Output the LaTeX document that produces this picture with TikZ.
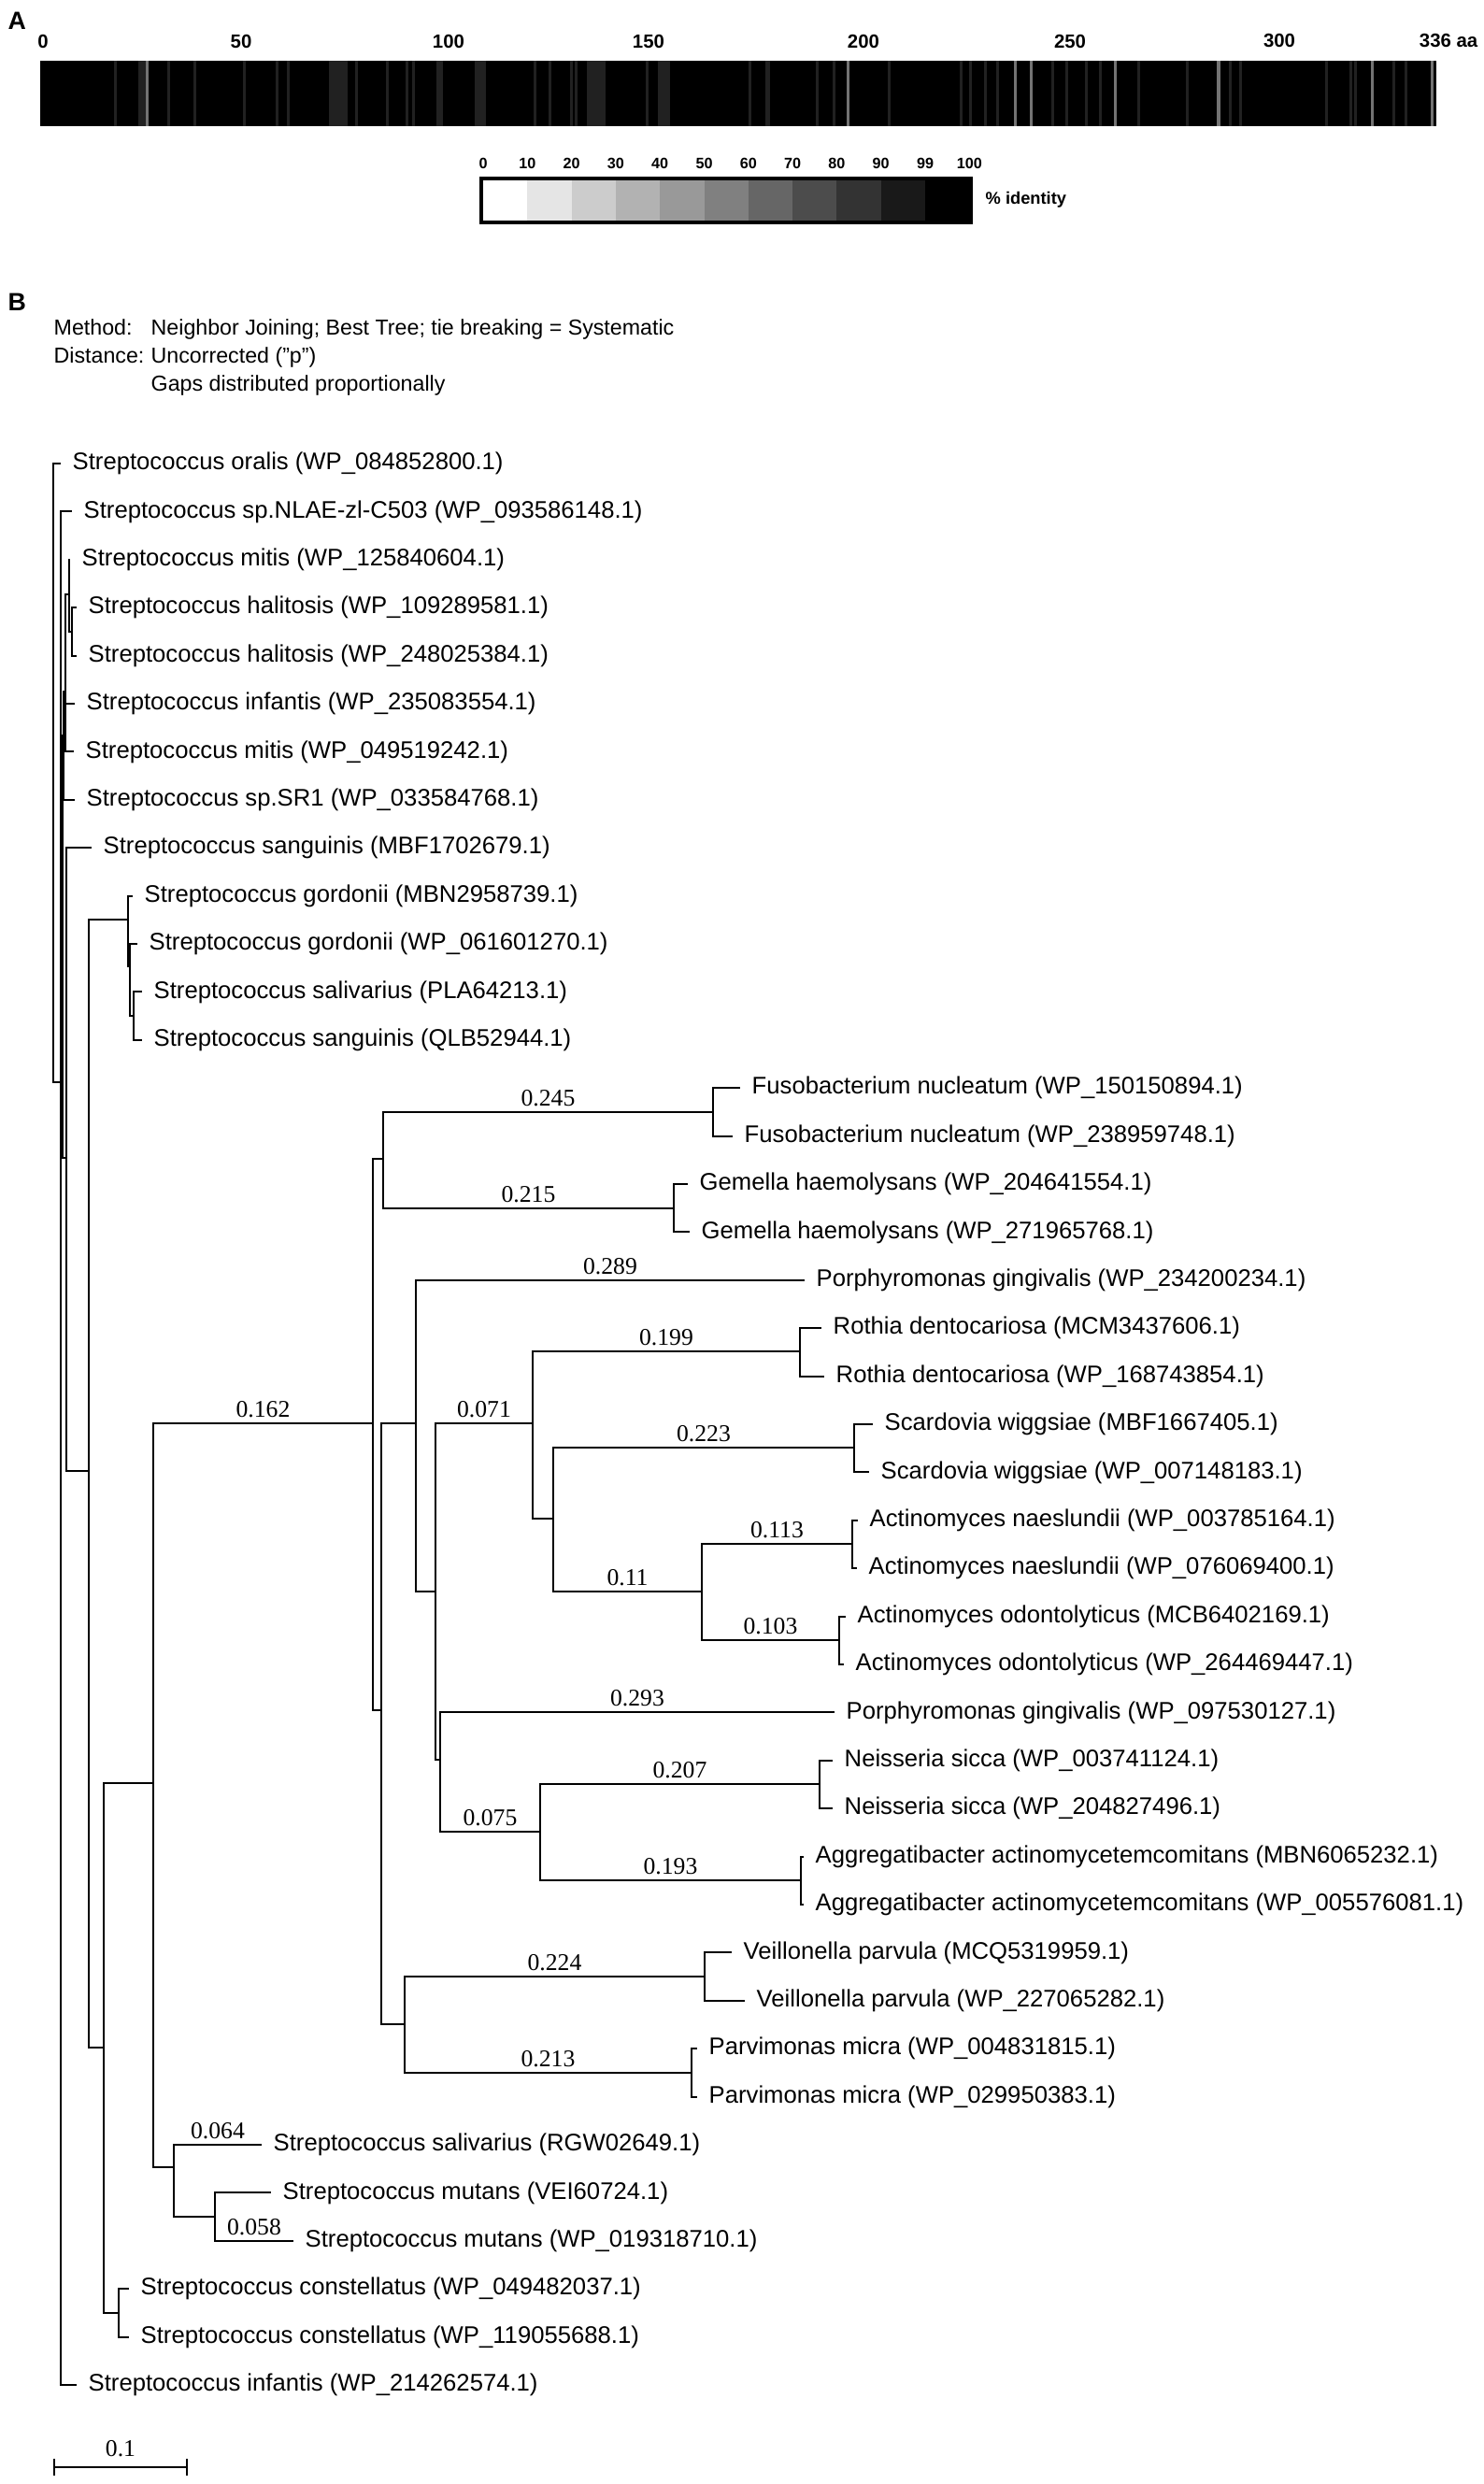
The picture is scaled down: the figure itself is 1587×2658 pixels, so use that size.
\documentclass[tikz,border=0pt]{standalone}
\usepackage{fontspec}
\setmainfont{Liberation Sans}
\newfontfamily\numserif{Liberation Serif}
\usepackage{graphicx}
\usetikzlibrary{positioning}

\definecolor{stripedark}{gray}{0.13}
\definecolor{stripelight}{gray}{0.45}
\newcommand{\leaffont}{\fontsize{7.3}{8.8}\selectfont}

\begin{document}
\begin{tikzpicture}[x=0.01cm, y=-0.01cm,
		branch/.style={line width=0.6pt},
		leaf/.style={inner sep=0pt, font=\leaffont},
		lenlab/.style={pos=0.75, above, inner sep=1.5pt, font=\numserif\leaffont},
		hdr/.style={anchor=base west, inner sep=0pt, font=\fontsize{6.6}{8}\selectfont},
		ticknum/.style={inner sep=0pt, font=\bfseries\fontsize{5.8}{6}\selectfont},
		panel/.style={anchor=west, inner sep=0pt, font=\bfseries\fontsize{7.6}{9}\selectfont}]
	\useasboundingbox (0,0) rectangle (1587,2658);

	% panel A: identity bar
	\node[panel] (pa) at (8,22) {A};
	\fill[black] (43,65) rectangle (1537,135);
	\foreach \sx/\sw/\sc in {122/3/stripedark, 148/10/stripedark, 156/3/stripelight,
			179/3/stripedark, 207/3/stripedark, 260/3/stripedark, 295/3/stripedark,
			307/3/stripedark, 352/20/stripedark, 380/3/stripedark, 413/3/stripedark,
			434/3/stripedark, 441/3/stripedark, 467/7/stripedark, 508/12/stripedark,
			571/3/stripedark, 587/3/stripedark, 610/3/stripedark, 615/3/stripedark,
			628/20/stripedark, 691/3/stripedark, 704/13/stripedark, 801/3/stripedark,
			819/5/stripedark, 873/3/stripedark, 891/3/stripedark, 906/3/stripelight,
			950/3/stripedark, 1027/3/stripedark, 1037/3/stripedark, 1053/3/stripedark,
			1066/3/stripedark, 1085/3/stripelight, 1102/3/stripelight, 1125/3/stripedark,
			1140/3/stripedark, 1161/3/stripedark, 1176/3/stripedark, 1192/3/stripelight,
			1217/3/stripedark, 1269/3/stripedark, 1302/4/stripelight, 1315/3/stripedark,
			1326/3/stripedark, 1418/3/stripedark, 1444/3/stripedark, 1449/3/stripedark,
			1467/3/stripelight, 1490/3/stripedark, 1503/3/stripedark, 1531/3/stripelight}
		\fill[\sc] (\sx,65) rectangle ++(\sw,70);
	\foreach \p/\t in {46/0, 258/50, 480/100, 694/150, 924/200, 1145/250, 1369/300}
		\node[ticknum] at (\p,44) {\t};
	\node[ticknum, anchor=east] (aa) at (1582,44) {336 aa};

	% legend
	\foreach \k in {0,...,10}
		\fill[black!\k0] ({517+47.3*\k},190) rectangle ({517+47.3*(\k+1)},239);
	\draw[line width=0.9pt] (515,191) rectangle (1039,238);
	\coordinate (legend) at (1040,214);
	\foreach \k/\t in {0/0, 1/10, 2/20, 3/30, 4/40, 5/50, 6/60, 7/70, 8/80, 9/90, 10/99, 11/100}
		\node[ticknum, font=\bfseries\fontsize{4.6}{5}\selectfont] (lg\k) at ({517+47.3*\k},175) {\t};
	\node[ticknum, anchor=west, right=0.14cm of legend, font=\bfseries\fontsize{5.2}{6}\selectfont] (ident) {\% identity};

	% panel B: header
	\node[panel] (pb) at (8,323) {B};
	\node[hdr] (meth) at (57,359) {Method:};
	\node[hdr] (methv) at (161,359) {Neighbor Joining; Best Tree; tie breaking = Systematic};
	\node[hdr] (dist) at (57,389) {Distance:};
	\node[hdr] (distv) at (161,389) {Uncorrected ("p")};
	\node[hdr] (gaps) at (161,419) {Gaps distributed proportionally};

	% leaves
	\foreach \i/\tx/\lab in {
			0/65/{Streptococcus oralis (WP\_084852800.1)},
			1/77/{Streptococcus sp.NLAE-zl-C503 (WP\_093586148.1)},
			2/75/{Streptococcus mitis (WP\_125840604.1)},
			3/82/{Streptococcus halitosis (WP\_109289581.1)},
			4/82/{Streptococcus halitosis (WP\_248025384.1)},
			5/80/{Streptococcus infantis (WP\_235083554.1)},
			6/79/{Streptococcus mitis (WP\_049519242.1)},
			7/80/{Streptococcus sp.SR1 (WP\_033584768.1)},
			8/98/{Streptococcus sanguinis (MBF1702679.1)},
			9/142/{Streptococcus gordonii (MBN2958739.1)},
			10/147/{Streptococcus gordonii (WP\_061601270.1)},
			11/152/{Streptococcus salivarius (PLA64213.1)},
			12/152/{Streptococcus sanguinis (QLB52944.1)},
			13/792/{Fusobacterium nucleatum (WP\_150150894.1)},
			14/784/{Fusobacterium nucleatum (WP\_238959748.1)},
			15/736/{Gemella haemolysans (WP\_204641554.1)},
			16/738/{Gemella haemolysans (WP\_271965768.1)},
			17/861/{Porphyromonas gingivalis (WP\_234200234.1)},
			18/879/{Rothia dentocariosa (MCM3437606.1)},
			19/882/{Rothia dentocariosa (WP\_168743854.1)},
			20/934/{Scardovia wiggsiae (MBF1667405.1)},
			21/930/{Scardovia wiggsiae (WP\_007148183.1)},
			22/918/{Actinomyces naeslundii (WP\_003785164.1)},
			23/917/{Actinomyces naeslundii (WP\_076069400.1)},
			24/905/{Actinomyces odontolyticus (MCB6402169.1)},
			25/903/{Actinomyces odontolyticus (WP\_264469447.1)},
			26/893/{Porphyromonas gingivalis (WP\_097530127.1)},
			27/891/{Neisseria sicca (WP\_003741124.1)},
			28/891/{Neisseria sicca (WP\_204827496.1)},
			29/860/{Aggregatibacter actinomycetemcomitans (MBN6065232.1)},
			30/860/{Aggregatibacter actinomycetemcomitans (WP\_005576081.1)},
			31/783/{Veillonella parvula (MCQ5319959.1)},
			32/797/{Veillonella parvula (WP\_227065282.1)},
			33/746/{Parvimonas micra (WP\_004831815.1)},
			34/746/{Parvimonas micra (WP\_029950383.1)},
			35/280/{Streptococcus salivarius (RGW02649.1)},
			36/290/{Streptococcus mutans (VEI60724.1)},
			37/314/{Streptococcus mutans (WP\_019318710.1)},
			38/138/{Streptococcus constellatus (WP\_049482037.1)},
			39/138/{Streptococcus constellatus (WP\_119055688.1)},
			40/82/{Streptococcus infantis (WP\_214262574.1)}}{
		\coordinate (t\i) at (\tx,{496+51.4*\i});
		\node[leaf, anchor=west, right=0.12cm of t\i] (n\i) {\lab};
	}

	% internal nodes
	\coordinate (root) at (57,828);
	\coordinate (cA) at (65,1158);
	\coordinate (cB) at (67,1013);
	\coordinate (cJ) at (68,787);
	\coordinate (cI) at (70,740);
	\coordinate (cM) at (74,636);
	\coordinate (hal) at (77,676);
	\coordinate (cZ) at (71,1239);
	\coordinate (cY) at (95,1574);
	\coordinate (gord) at (137,984);
	\coordinate (gord2) at (139,1034);
	\coordinate (gord3) at (143,1087);
	\coordinate (cX) at (111,2191);
	\coordinate (const) at (127,2475);
	\coordinate (cV) at (164,1908);
	\coordinate (cW) at (186,2319);
	\coordinate (mut) at (230,2372);
	\coordinate (cP) at (399,1523);
	\coordinate (cFG) at (410,1240);
	\coordinate (fuso) at (763,1190);
	\coordinate (gem) at (721,1293);
	\coordinate (cQ) at (408,1830);
	\coordinate (cR) at (445,1523);
	\coordinate (cU) at (466,1703);
	\coordinate (cS) at (570,1523);
	\coordinate (roth) at (856,1446);
	\coordinate (cS2) at (592,1625);
	\coordinate (scard) at (914,1549);
	\coordinate (actino) at (751,1703);
	\coordinate (actn) at (912,1652);
	\coordinate (acto) at (898,1755);
	\coordinate (cT) at (471,1883);
	\coordinate (cNA) at (578,1960);
	\coordinate (neis) at (877,1909);
	\coordinate (aggr) at (857,2012);
	\coordinate (cVP) at (433,2166);
	\coordinate (veil) at (754,2115);
	\coordinate (parv) at (740,2218);

	% branches
	\foreach \a/\b in {root/t0, root/cA, cA/t1, cA/cB, cA/t40, cB/cJ, cB/cZ,
			cJ/cI, cJ/t7, cI/cM, cI/t5, cI/t6, cM/t2, cM/hal, hal/t3, hal/t4,
			cZ/t8, cZ/cY, cY/gord, cY/cX, gord/t9, gord/gord2, gord2/t10, gord2/gord3,
			gord3/t11, gord3/t12, cX/cV, cX/const, const/t38, const/t39, cV/cW,
			cW/mut, mut/t36, cP/cFG, cP/cQ, fuso/t13, fuso/t14, gem/t15, gem/t16,
			cQ/cR, cQ/cVP, cR/cU, cU/cT, cS/cS2, roth/t18, roth/t19, scard/t20,
			scard/t21, actn/t22, actn/t23, acto/t24, acto/t25, neis/t27, neis/t28,
			aggr/t29, aggr/t30, veil/t31, veil/t32, parv/t33, parv/t34}
		\draw[branch] (\a) |- (\b);
	\foreach \a/\b/\v in {cV/cP/0.162, cW/t35/0.064, mut/t37/0.058, cFG/fuso/0.245,
			cFG/gem/0.215, cR/t17/0.289, cU/cS/0.071, cS/roth/0.199, cS2/scard/0.223,
			cS2/actino/0.11, actino/actn/0.113, actino/acto/0.103, cT/t26/0.293,
			cT/cNA/0.075, cNA/neis/0.207, cNA/aggr/0.193, cVP/veil/0.224, cVP/parv/0.213}
		\draw[branch] (\a) |- node[lenlab] {\v} (\b);

	% scale bar
	\coordinate (sb0) at (58,2640);
	\coordinate (sb1) at (200,2640);
	\draw[branch] (sb0) -- node[lenlab, pos=0.5, inner sep=3pt] {0.1} (sb1);
	\draw[branch] ([yshift=-0.09cm]sb0) -- ([yshift=0.09cm]sb0);
	\draw[branch] ([yshift=-0.09cm]sb1) -- ([yshift=0.09cm]sb1);
\end{tikzpicture}
\end{document}
